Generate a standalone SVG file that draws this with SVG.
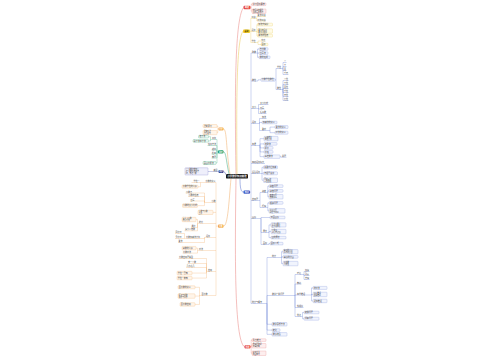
<svg xmlns="http://www.w3.org/2000/svg" width="500" height="360" viewBox="0 0 500 360">
<style>
text{font-family:"Noto Sans CJK SC","Noto Sans",sans-serif;font-size:2px;fill:#3a3a3a}
.s{font-size:1.75px}
.e{text-anchor:end}
.w{fill:#fff;text-anchor:middle;font-size:2px;font-weight:bold}
.bb{fill:#f1f4fd;stroke:#6d85d6;stroke-width:.25}
.yb{fill:#fffbe6;stroke:#e6c84a;stroke-width:.25}
.rb{fill:#fdeeee;stroke:#e47b78;stroke-width:.25}
.ob{fill:#fff5ea;stroke:#f0ab63;stroke-width:.25}
.gb{fill:#ecf8f2;stroke:#3aa97c;stroke-width:.25}
.pb{fill:#efeffb;stroke:#6b6fc4;stroke-width:.25}
path{fill:none;stroke-width:.3;stroke-linejoin:round}
.bl{stroke:#5670cf}.yl{stroke:#e8c64a}.rl{stroke:#e87f7a}.ol{stroke:#f0ab63}.gl{stroke:#3aa97c}.pl{stroke:#4a53b0}
.m{stroke-width:.5}
</style>
<rect width="500" height="360" fill="#fff"/>
<g id="connectors">
<path class="rl m" d="M236,174 C235,110 234,20 243.5,7.5"/>
<path class="yl m" d="M237,174 C236.5,110 236,40 243,31.2"/>
<path class="bl m" d="M240,178.6 C240,188 241,192.1 243.5,192.1"/>
<path class="rl m" d="M236,178.6 C235,250 234,340 244.5,346.9"/>
<path class="ol m" d="M230,174 C226,150 227,129 223.5,129"/>
<path class="gl m" d="M229,174 C226,160 226,151.9 223.5,151.9"/>
<path class="pl m" d="M227,175.5 C225,174 225,171.5 223.5,171.5"/>
<path class="ol m" d="M231,178.6 C229,200 228,226.1 223.5,226.1"/>
<path class="rl" d="M250.5,7.5 H251.2 V4.3 H252 M251.2,7.5 V11.2 H252"/>
<path class="rl" d="M250.5,346.9 H251.2 V340.1 H252 M251.2,346.9 V345.75 H252 M251.2,346.9 V353.25 H252"/>
<path class="yl" d="M250,31.2 H250.8 V18.5 H256 M250.8,31.2 V31.5 H256 M250.8,31.2 V42.5 H256"/>
<path class="yl" d="M256,18.5 H256.8 V16.5 H266 M256.8,18.5 V21 H266 M256,31.5 H256.8 V24.6 H257.5 M256.8,31.5 V31 H257.5 M256.8,31.5 V35.7 H257.5 M256,42.5 H258 V41 H265.5 M258,42.5 V44.5 H261"/>
<path class="bl" d="M250,192.1 H251 M251,53 V303.5"/>
<path class="bl" d="M251,53 H256.5 H257.5 V49 H259 M257.5,53 V53.1 H259 M257.5,53 V57.3 H259"/>
<path class="bl" d="M251,81 H256.5 H258 V79.8 H261 M275,79.8 H276 V68.5 H281.8 M276,79.8 V89.5 H281.8"/>
<path class="bl" d="M281.8,68.5 H283 V62.5 H286.5 M283,68.5 V66.5 H286.5 M283,68.5 V70.5 H286.5 M283,68.5 V74.5 H288.5"/>
<path class="bl" d="M281.8,89.5 H283 V80.5 H288.5 M283,89.5 V84.5 H288.5 M283,89.5 V88.5 H288.5 M283,89.5 V92.5 H288.5 M283,89.5 V96.5 H288.5 M283,89.5 V100.5 H288.5"/>
<path class="bl" d="M251,108.5 H256.5 H258.5 V104.5 H268.5 M258.5,108.5 V109 H264.5 M258.5,108.5 V113.5 H266.5"/>
<path class="bl" d="M251,123.5 H256.5 H259.5 V118.5 H266.5 M259.5,123.5 V122.5 H262 M259.5,123.5 V130.5 H266.5 H270 V127.1 H275 M270,130.5 V132.7 H275"/>
<path class="bl" d="M251,145.5 H256.5 H260 V138.65 H264 M260,145.5 V143.9 H264 M260,145.5 V147.9 H264 M260,145.5 V151.9 H264 M260,145.5 V156.65 H264 M280,156.65 H281 V157.2 H286.5"/>
<path class="bl" d="M251,163.5 H265"/>
<path class="bl" d="M251,173.5 H260.5 H262 V167.3 H263.5 M262,173.5 V173.3 H263.5 M262,173.5 V180.25 H263.5"/>
<path class="bl" d="M251,200.5 H258.5 H260 V192.5 H266.5 M260,200.5 V207.5 H266.5 M266.5,192.5 H267.8 V186.1 H269 M267.8,192.5 V190.9 H269 M267.8,192.5 V196.75 H269 M266.5,207.5 H267.8 V202.9 H269 M267.8,207.5 V210.85 H269"/>
<path class="bl" d="M251,218.5 H256.5 H261 V217.5 H270 M261,218.5 V232.5 H267.5 M261,218.5 V244.5 H267.5 M267.5,232.5 H269 V224.9 H271 M269,232.5 V231.55 H271 M269,232.5 V237.6 H271 M267.5,244.5 H268.8 V243.6 H270"/>
<path class="bl" d="M251,303.5 H263 H267 V257.5 H280 M267,303.5 V295.5 H293 M267,303.5 V324.25 H272 M267,303.5 V330.1 H272 M267,303.5 V334.35 H272"/>
<path class="bl" d="M280,257.5 H281.5 V251.7 H283 M281.5,257.5 V256.9 H283 M281.5,257.5 V263.55 H283"/>
<path class="bl" d="M293,295.5 H295 V274.5 H303 M295,295.5 V284 H301.5 M295,295.5 V295 H310 M295,295.5 V307.5 H303.5 M295,295.5 V316.5 H301.5"/>
<path class="bl" d="M303,274.5 H304 V271.5 H309.5 M304,274.5 V275.5 H309.5 M304,274.5 V279.5 H309.5 M310,295 H311.5 V287.9 H313 M311.5,295 V294.45 H313 M311.5,295 V300.95 H313 M301.5,316.5 H302.5 V312.5 H304 M302.5,316.5 V318.7 H304"/>
<path class="ol" d="M218.5,129 H217.8 V126 H217 M217.8,129 V132.6 H217"/>
<path class="gl" d="M218,151.9 H217 V139.5 H211.5 H210.5 V136.7 H208.5 M210.5,139.5 V140.9 H208.5 M217,151.9 V145.5 H207.5 M217,151.9 V150 H211.5 M217,151.9 V154 H211.5 M217,151.9 V158 H211.5 M217,151.9 V163 H216"/>
<path class="pl" d="M218.5,171.5 H208"/>
<path class="ol" d="M218,226.1 H216 M216,182.5 V295.5 M216,212.4 H213"/>
<path class="ol" d="M216,182.5 H191.5 M200.5,182.5 V186.7 H198"/>
<path class="ol" d="M216,202.5 H205.5 H204.5 V193 H185.5 M204.5,202.5 V196.5 H188 M204.5,202.5 V201 H190 M204.5,202.5 V205.6 H197.5"/>
<path class="ol" d="M216,223.5 H198.5 H197.5 V219.5 H196 M197.5,223.5 V227.5 H191 M197.5,223.5 V230.8 H184.5"/>
<path class="ol" d="M216,237.5 H205.5 H204.5 V238.5 H185.5 H184.5 V233.5 H175 M184.5,238.5 H175 M204.5,237.5 V242.5 H178"/>
<path class="ol" d="M216,250.5 H198.5 H197.5 V248.15 H196 M197.5,250.5 V253.1 H182.5"/>
<path class="ol" d="M216,271.5 H207.5 H206.5 V258.5 H178.5 M206.5,271.5 V263.5 H187.5 M206.5,271.5 V267.5 H186 M206.5,271.5 V273.05 H192 M206.5,271.5 V278.05 H192"/>
<path class="ol" d="M216,295.5 H201 H199.5 V287.3 H195 M199.5,295.5 V296.05 H195 M199.5,295.5 V304.45 H195"/>
</g>
<g id="center"><rect x="226" y="174" width="22" height="4.6" rx="1.2" fill="#1a1a1a"/><text class="w" x="237" y="177.1" style="font-size:2.4px">小学数学知识梳理</text></g>
<g id="red-top"><rect x="243.5" y="5.8" width="7" height="3.4" rx="1" fill="#e5483f"/><text class="w" x="247" y="8.2">概述</text></g>
<g id="r1"><rect class="rb" x="252" y="3" width="14" height="2.6" rx=".6"/><text x="252.7" y="4.95">学习目标要求</text></g>
<g id="r2"><rect class="rb" x="252" y="9" width="14" height="4.4" rx=".6"/><text class="s" x="252.7" y="10.9">掌握基本概念</text><text class="s" x="252.7" y="12.8">形成运算能力</text></g>
<g id="yellow"><rect x="243" y="29.5" width="7" height="3.4" rx="1" fill="#f2c928"/><text class="w" x="246.5" y="31.9" style="fill:#5a4a00">基础</text></g>
<g id="y1"><text x="251.6" y="18">口诀</text></g>
<g id="y1a"><text x="257.6" y="16">乘法口诀</text></g>
<g id="y1b"><text x="257.6" y="20.5">除法口诀</text></g>
<g id="y2"><text x="251.6" y="31">运算</text></g>
<g id="y2a"><rect class="yb" x="257.5" y="23.2" width="15" height="2.8" rx=".6"/><text x="258.2" y="25.2">加法交换律</text></g>
<g id="y2b"><rect class="yb" x="257.5" y="28.8" width="15" height="4.4" rx=".6"/><text class="s" x="258.2" y="30.7">乘法结合律</text><text class="s" x="258.2" y="32.6">乘法分配律</text></g>
<g id="y2c"><rect class="yb" x="257.5" y="34.3" width="15" height="2.8" rx=".6"/><text x="258.2" y="36.3">减法的性质</text></g>
<g id="y3"><text x="251.6" y="42">单位</text></g>
<g id="y3a"><text x="261.2" y="40.5">长度</text></g>
<g id="y3b"><rect class="yb" x="261" y="43.3" width="7" height="2.4" rx=".6"/><text x="261.6" y="45.1">面积</text></g>
<g id="blue"><rect x="243.5" y="190.5" width="6.5" height="3.2" rx="1" fill="#3350c0"/><text class="w" x="246.75" y="192.8">知识</text></g>
<g id="b1"><text x="252" y="52.5">整数</text></g>
<g id="b1a"><rect class="bb" x="259" y="47.7" width="9" height="2.6" rx=".6"/><text x="259.7" y="49.65">自然数</text></g>
<g id="b1b"><rect class="bb" x="259" y="51.8" width="9" height="2.6" rx=".6"/><text x="259.7" y="53.75">读写法</text></g>
<g id="b1c"><rect class="bb" x="259" y="56" width="11" height="2.6" rx=".6"/><text x="259.7" y="57.95">数的组成</text></g>
<g id="b2"><text x="252" y="80.5">数位</text></g>
<g id="b2a"><rect class="bb" x="261" y="78.3" width="14" height="3" rx=".6"/><text x="261.8" y="80.45">计数单位数位</text></g>
<g id="b2s1"><text x="277" y="68">单位</text></g>
<g id="b2s1a"><text x="284" y="62">个</text></g>
<g id="b2s1b"><text x="284" y="66">十</text></g>
<g id="b2s1c"><text x="284" y="70">百</text></g>
<g id="b2s1d"><text x="284" y="74">千万</text></g>
<g id="b2s2"><text x="277" y="89">数位</text></g>
<g id="b2s2a"><text x="284" y="80">个位</text></g>
<g id="b2s2b"><text x="284" y="84">十位</text></g>
<g id="b2s2c"><text x="284" y="88">百位</text></g>
<g id="b2s2d"><text x="284" y="92">千位</text></g>
<g id="b2s2e"><text x="284" y="96">万位</text></g>
<g id="b2s2f"><text x="284" y="100">亿位</text></g>
<g id="b3"><text x="252" y="108">大小</text></g>
<g id="b3a"><text x="260" y="104">大小比较</text></g>
<g id="b3b"><text x="260" y="108.5">改写</text></g>
<g id="b3c"><text x="260" y="113">近似数</text></g>
<g id="b4"><text x="252" y="123">运算</text></g>
<g id="b4a"><text x="262" y="118">加法</text></g>
<g id="b4b"><rect class="bb" x="262" y="121.2" width="15" height="2.6" rx=".6"/><text x="262.7" y="123.15">加减法的意义</text></g>
<g id="b4c"><text x="262" y="130">乘除</text></g>
<g id="b4c1"><rect class="bb" x="275" y="125.6" width="13" height="3" rx=".6"/><text x="275.7" y="127.75">乘法的意义</text></g>
<g id="b4c2"><rect class="bb" x="275" y="131.2" width="13" height="3" rx=".6"/><text x="275.7" y="133.35">除法的意义</text></g>
<g id="b5"><text x="252" y="145">简便</text></g>
<g id="b5a"><rect class="bb" x="264" y="136.4" width="14" height="4.5" rx=".6"/><text class="s" x="264.7" y="138.3">运用定律</text><text class="s" x="264.7" y="140.3">简便计算</text></g>
<g id="b5b"><rect class="bb" x="264" y="142.6" width="13" height="2.6" rx=".6"/><text x="264.7" y="144.55">凑整法</text></g>
<g id="b5c"><rect class="bb" x="264" y="146.6" width="9" height="2.6" rx=".6"/><text x="264.7" y="148.55">拆分</text></g>
<g id="b5d"><rect class="bb" x="264" y="150.6" width="9" height="2.6" rx=".6"/><text x="264.7" y="152.55">分组</text></g>
<g id="b5e"><rect class="bb" x="264" y="154.9" width="16" height="3.5" rx=".6"/><text x="264.7" y="157.3">基准数法</text></g>
<g id="b5f"><text x="282" y="156.7">例题</text></g>
<g id="b6"><text x="252" y="163">四则运算顺序</text></g>
<g id="b7"><text x="252" y="173">混合运算</text></g>
<g id="b7a"><rect class="bb" x="263.5" y="165.8" width="14" height="3" rx=".6"/><text x="264.2" y="167.95">先乘除后加减</text></g>
<g id="b7b"><rect class="bb" x="263.5" y="171.8" width="14" height="3" rx=".6"/><text x="264.2" y="173.95">有括号先算</text></g>
<g id="b7c"><rect class="bb" x="263.5" y="178" width="14" height="4.5" rx=".6"/><text class="s" x="264.2" y="179.9">同级运算</text><text class="s" x="264.2" y="181.9">从左往右</text></g>
<g id="b8"><text x="252" y="200">应用题</text></g>
<g id="b8s1"><text x="262" y="192">和差</text></g>
<g id="b8s1a"><rect class="bb" x="269" y="184.8" width="14" height="2.6" rx=".6"/><text x="269.7" y="186.75">和差问题</text></g>
<g id="b8s1b"><rect class="bb" x="269" y="189.6" width="14" height="2.6" rx=".6"/><text x="269.7" y="191.55">和倍问题</text></g>
<g id="b8s1c"><rect class="bb" x="269" y="194.5" width="14" height="4.5" rx=".6"/><text class="s" x="269.7" y="196.4">差倍问题</text><text class="s" x="269.7" y="198.4">倍数关系</text></g>
<g id="b8s2"><text x="262" y="207">行程</text></g>
<g id="b8s2a"><rect class="bb" x="269" y="201.6" width="14" height="2.6" rx=".6"/><text x="269.7" y="203.55">相遇问题</text></g>
<g id="b8s2b"><rect class="bb" x="269" y="208.6" width="16" height="4.5" rx=".6"/><text class="s" x="269.7" y="210.5">追及问题</text><text class="s" x="269.7" y="212.5">速度与时间</text></g>
<g id="b9"><text x="252" y="218">图形</text></g>
<g id="b9a"><rect class="bb" x="270" y="216.2" width="15" height="2.6" rx=".6"/><text x="270.7" y="218.15">平面图形</text></g>
<g id="b9s1"><text x="263" y="232">周长</text></g>
<g id="b9s1a"><rect class="bb" x="271" y="222.8" width="15" height="4.2" rx=".6"/><text class="s" x="271.7" y="224.6">长方形周长</text><text class="s" x="271.7" y="226.5">正方形周长</text></g>
<g id="b9s1b"><rect class="bb" x="271" y="229.3" width="15" height="4.5" rx=".6"/><text class="s" x="271.7" y="231.2">三角形</text><text class="s" x="271.7" y="233.2">平行四边形</text></g>
<g id="b9s1c"><rect class="bb" x="271" y="236.3" width="15" height="2.6" rx=".6"/><text x="271.7" y="238.25">圆的周长</text></g>
<g id="b9s2"><text x="263" y="244">面积</text></g>
<g id="b9s2a"><rect class="bb" x="270" y="242.3" width="13" height="2.6" rx=".6"/><text x="270.7" y="244.25">面积公式</text></g>
<g id="b10"><text x="252" y="303">统计与概率</text></g>
<g id="b10s1"><text x="272" y="257">统计</text></g>
<g id="b10s1a"><rect class="bb" x="283" y="249.6" width="15" height="4.2" rx=".6"/><text class="s" x="283.7" y="251.4">条形统计图</text><text class="s" x="283.7" y="253.3">折线统计图</text></g>
<g id="b10s1b"><rect class="bb" x="283" y="255.6" width="15" height="2.6" rx=".6"/><text x="283.7" y="257.55">扇形统计图</text></g>
<g id="b10s1c"><rect class="bb" x="283" y="261.3" width="15" height="4.5" rx=".6"/><text class="s" x="283.7" y="263.2">平均数</text><text class="s" x="283.7" y="265.2">可能性</text></g>
<g id="b10s2"><text x="272" y="295">数学广角问题</text></g>
<g id="b10s2a"><text x="297" y="274">鸡兔</text></g>
<g id="b10s2a1"><text x="305" y="271">假设</text></g>
<g id="b10s2a2"><text x="305" y="275">列表</text></g>
<g id="b10s2a3"><text x="305" y="279">方程</text></g>
<g id="b10s2b"><text x="297" y="283.5">植树</text></g>
<g id="b10s2c"><text x="297" y="294.5">简单推理</text></g>
<g id="b10s2c1"><rect class="bb" x="313" y="286.4" width="14" height="3" rx=".6"/><text x="313.7" y="288.55">排除法</text></g>
<g id="b10s2c2"><rect class="bb" x="313" y="292.2" width="14" height="4.5" rx=".6"/><text class="s" x="313.7" y="294.1">列表推理</text><text class="s" x="313.7" y="296.1">假设推理</text></g>
<g id="b10s2c3"><rect class="bb" x="313" y="299.2" width="14" height="3.5" rx=".6"/><text x="313.7" y="301.6">逻辑推理</text></g>
<g id="b10s2d"><text x="297" y="307">找规律</text></g>
<g id="b10s2e"><text x="297" y="316">优化</text></g>
<g id="b10s2e1"><rect class="bb" x="304" y="311.2" width="15" height="2.6" rx=".6"/><text x="304.7" y="313.15">烙饼问题</text></g>
<g id="b10s2e2"><rect class="bb" x="304" y="317.2" width="15" height="3" rx=".6"/><text x="304.7" y="319.35">沏茶问题</text></g>
<g id="b10a"><rect class="bb" x="272" y="322.5" width="15" height="3.5" rx=".6"/><text x="272.7" y="324.9">数学思想方法</text></g>
<g id="b10b"><rect class="bb" x="272" y="328.8" width="8" height="2.6" rx=".6"/><text x="272.7" y="330.75">转化</text></g>
<g id="b10c"><rect class="bb" x="272" y="332.6" width="15" height="3.5" rx=".6"/><text x="272.7" y="335">数形结合</text></g>
<g id="red-bottom"><rect x="244.5" y="345.3" width="6" height="3.2" rx="1" fill="#e5483f"/><text class="w" x="247.5" y="347.6">总结</text></g>
<g id="rb1"><rect class="rb" x="252" y="338.8" width="14" height="2.6" rx=".6"/><text x="252.7" y="340.75">重点难点</text></g>
<g id="rb2"><rect class="rb" x="252" y="343.5" width="14" height="4.5" rx=".6"/><text class="s" x="252.7" y="345.4">易错题整理</text><text class="s" x="252.7" y="347.4">查漏补缺</text></g>
<g id="rb3"><rect class="rb" x="252" y="351" width="14" height="4.5" rx=".6"/><text class="s" x="252.7" y="352.9">复习方法</text><text class="s" x="252.7" y="354.9">巩固练习</text></g>
<g id="orange-small"><rect x="218.5" y="127.5" width="5" height="3" rx="1" fill="#f2a541"/><text class="w" x="221" y="129.7" style="font-size:1.8px">方法</text></g>
<g id="os1"><rect class="ob" x="203" y="124.5" width="14" height="3" rx=".6"/><text x="203.7" y="126.65">课前预习</text></g>
<g id="os2"><rect class="ob" x="203" y="130.5" width="14" height="4.2" rx=".6"/><text class="s" x="203.7" y="132.3">课堂听讲</text><text class="s" x="203.7" y="134.2">课后复习</text></g>
<g id="green"><rect x="218" y="150.3" width="5.5" height="3.2" rx="1" fill="#1f9e6e"/><text class="w" x="220.75" y="152.6" style="font-size:1.8px">技巧</text></g>
<g id="g1"><text class="e" x="216" y="139">口算</text></g>
<g id="g1a"><rect class="gb" x="198.5" y="135.4" width="10" height="2.6" rx=".6"/><text x="199.2" y="137.35">凑十法</text></g>
<g id="g1b"><rect class="gb" x="193" y="139.6" width="15.5" height="2.6" rx=".6"/><text x="193.7" y="141.55">破十法平十法</text></g>
<g id="g2"><text class="e" x="216" y="145">估算方法</text></g>
<g id="g3"><text class="e" x="216" y="149.5">验算</text></g>
<g id="g4"><text class="e" x="216" y="153.5">检查</text></g>
<g id="g5"><text class="e" x="216" y="157.5">审题</text></g>
<g id="g6"><rect class="gb" x="203" y="161.5" width="13" height="3" rx=".6"/><text x="203.7" y="163.65">画图分析法</text></g>
<g id="purple"><rect x="218.5" y="170" width="5" height="3" rx="1" fill="#2e3a8c"/><text class="w" x="221" y="172.2" style="font-size:1.8px">例题</text></g>
<g id="p1"><text class="e" x="217.5" y="171">典型</text></g>
<g id="p1a"><rect class="pb" x="185" y="167.8" width="23" height="7.2" rx=".6"/><text class="s" x="185.7" y="169.9">一个数的3倍加上</text><text class="s" x="185.7" y="171.9">这个数的5倍等于</text><text class="s" x="185.7" y="173.9">48，求这个数</text></g>
<g id="orange-big"><rect x="218" y="224.5" width="5.5" height="3.2" rx="1" fill="#f2a541"/><text class="w" x="220.75" y="226.8" style="font-size:1.8px">分数</text></g>
<g id="o1"><text class="e" x="215.5" y="182">分数的意义</text></g>
<g id="o1a"><text class="e" x="199.5" y="182">单位一</text></g>
<g id="o1b"><rect class="ob" x="182" y="185.2" width="16" height="3" rx=".6"/><text x="182.7" y="187.35">分数单位的认识</text></g>
<g id="o2"><text class="e" x="215.5" y="202">小数</text></g>
<g id="o2a"><text x="186" y="192.5">小数点</text></g>
<g id="o2b"><text x="188.5" y="196">小数的性质</text></g>
<g id="o2c"><text x="190.5" y="200.5">读写</text></g>
<g id="o2d"><rect class="ob" x="182.5" y="203.8" width="15" height="3.6" rx=".6"/><text x="183.1" y="206.2">小数的大小比较</text></g>
<g id="o3"><rect class="ob" x="198" y="210.3" width="15" height="4.2" rx=".6"/><text class="s" x="198.7" y="212.1">分数与小数</text><text class="s" x="198.7" y="214">互化</text></g>
<g id="o4"><text x="199" y="223">约分</text></g>
<g id="o4a"><rect class="ob" x="182" y="217.3" width="14" height="4.4" rx=".6"/><text class="s" x="182.7" y="219.2">最大公因数</text><text class="s" x="182.7" y="221.1">约分方法</text></g>
<g id="o4b"><text x="191.5" y="227">通分</text></g>
<g id="o4c"><text x="185" y="230.3">最小公倍数</text></g>
<g id="o5"><text x="206" y="237">运算</text></g>
<g id="o5a"><text x="186" y="238">分数加减法计算</text></g>
<g id="o5a1"><text x="175.5" y="233">同分母</text></g>
<g id="o5a2"><text x="175.5" y="238">异分母</text></g>
<g id="o5b"><text x="178.5" y="242">乘法</text></g>
<g id="o6"><text x="199" y="250">除法</text></g>
<g id="o6a"><rect class="ob" x="182" y="246.4" width="14" height="3.5" rx=".6"/><text x="182.7" y="248.8">倒数的认识</text></g>
<g id="o6b"><text x="183" y="252.6">分数除法</text></g>
<g id="o7"><text x="208" y="271">应用</text></g>
<g id="o7a"><text x="179" y="258">分数应用题类型</text></g>
<g id="o7b"><text x="188" y="263">求一个数</text></g>
<g id="o7c"><text x="186.5" y="267">几分之几</text></g>
<g id="o7d"><rect class="ob" x="177" y="271.3" width="15" height="3.5" rx=".6"/><text x="177.7" y="273.7">单位一已知</text></g>
<g id="o7e"><rect class="ob" x="177" y="276.3" width="15" height="3.5" rx=".6"/><text x="177.7" y="278.7">单位一未知</text></g>
<g id="o8"><text x="201.5" y="295">百分数</text></g>
<g id="o8a"><rect class="ob" x="178" y="285.8" width="17" height="3" rx=".6"/><text x="178.7" y="287.95">百分数的意义</text></g>
<g id="o8b"><rect class="ob" x="178" y="293.8" width="17" height="4.5" rx=".6"/><text class="s" x="178.7" y="295.7">折扣与成数</text><text class="s" x="178.7" y="297.7">税率与利率</text></g>
<g id="o8c"><rect class="ob" x="180" y="302.7" width="15" height="3.5" rx=".6"/><text x="180.7" y="305.1">百分数应用</text></g>
</svg>
